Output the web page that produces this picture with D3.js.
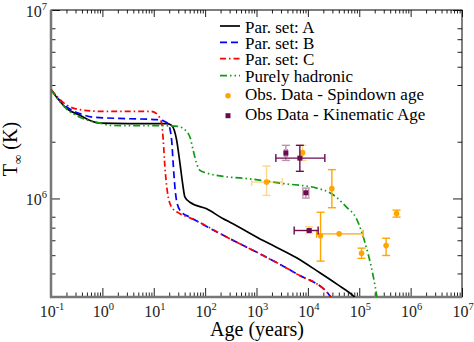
<!DOCTYPE html>
<html>
<head>
<meta charset="utf-8">
<script src="https://d3js.org/d3.v7.min.js"></script>
<style>
  body { margin: 0; background: #fff; }
  text { font-family: 'Liberation Serif', 'DejaVu Serif', serif; }
</style>
</head>
<body>
<svg id="vis"></svg>
<script>
  // cooling curves: [age (yr), T_inf (K)]
  var curveA = [[0.1,3.78e6],[0.202,3.0e6],[0.366,2.76e6],[0.56,2.6e6],[0.89,2.51e6],[3.16,2.495e6],
    [18.1,2.495e6],[22.3,2.44e6],[27.9,2.04e6],[32.4,1.535e6],[36.5,1.2e6],[40.5,1.016e6],[50.6,9.55e5],
    [107,8.81e5],[225,7.8e5],[304,7.48e5],[1349,5.98e5],[6026,4.84e5],[14760,4.14e5],[36140,3.52e5],
    [82000,2.99e5],[100000,2.82e5]]
  var curveB = [[0.1,3.78e6],[0.202,3.06e6],[0.366,2.82e6],[0.665,2.7e6],[3.16,2.65e6],[11.4,2.62e6],
    [16,2.57e6],[19.1,2.49e6],[22.3,2.04e6],[23.9,1.53e6],[25.8,1.15e6],[28.6,9.38e5],[34.9,8.45e5],
    [50.6,7.96e5],[304,6.11e5],[1349,4.98e5],[6026,3.98e5],[26800,3.05e5],[31600,2.82e5]]
  var curveC = [[0.1,3.78e6],[0.202,3.13e6],[0.366,2.96e6],[0.89,2.9e6],[8.5,2.9e6],[11.4,2.82e6],
    [12.2,2.76e6],[14.3,2.49e6],[15.3,2.04e6],[16.5,1.47e6],[18.3,1.1e6],[22.3,8.99e5],[32.4,8.3e5],
    [50.6,7.89e5],[304,6.11e5],[1349,4.98e5],[6026,3.98e5],[26800,3.05e5],[31600,2.82e5]]
  var curveHadronic = [[0.1,3.78e6],[0.202,2.98e6],[0.366,2.7e6],[0.89,2.51e6],[1.5,2.44e6],[20,2.43e6],
    [30,2.41e6],[37.5,2.35e6],[50.6,2.12e6],[58.6,1.8e6],[68.4,1.53e6],[79.3,1.41e6],[107,1.365e6],
    [225,1.31e6],[745,1.27e6],[3311,1.2e6],[14760,1.135e6],[28900,1.06e6],[56600,8.99e5],[88500,7.8e5],
    [128500,5.86e5],[186200,3.89e5],[219800,3.02e5],[240000,2.51e5]]

  // observed: spindown age
  var spinAge   = [1570, 7890, 29300, 532000, 40600, 17660, 10470, 110900, 333000]
  var spinT     = [1.222e6, 1.75e6, 1.127e6, 8.32e5, 6.49e5, 6.34e5, 6.76e5, 5.12e5, 5.62e5]
  var spinAgeLo = [804, null, null, null, 14760, null, null, null, null]
  var spinAgeHi = [3162, null, null, null, 119000, null, null, null, null]
  var spinTLo   = [1.038e6, 1.592e6, 8.93e5, 7.96e5, null, 4.65e5, 6.52e5, 4.81e5, 4.98e5]
  var spinTHi   = [1.486e6, 1.914e6, 1.422e6, 8.67e5, null, 8.45e5, 7.08e5, 5.45e5, 6.15e5]

  // observed: kinematic age
  var kinAge   = [3733, 6980, 9140, 10620]
  var kinT     = [1.742e6, 1.637e6, 1.072e6, 6.76e5]
  var kinAgeLo = [3500, 2380, 8000, 5410]
  var kinAgeHi = [3980, 21380, 10400, 15850]
  var kinTLo   = [1.592e6, 1.393e6, 1.005e6, null]
  var kinTHi   = [1.914e6, 1.914e6, 1.135e6, null]

  var xMajor = [-1, 0, 1, 2, 3, 4, 5, 6, 7]
  var yMajor = [6, 7]

  var legendLabels = ["Par. set: A", "Par. set: B", "Par. set: C", "Purely hadronic",
    "Obs. Data - Spindown age", "Obs Data - Kinematic Age"]

  var W = 474, H = 342
  var svg = d3.select('#vis').attr('width', W).attr('height', H)
    .attr('font-family', "'Liberation Serif', 'DejaVu Serif', serif")

  var x = d3.scaleLog().domain([0.1, 1e7]).range([51, 462])
  var y = d3.scaleLog().domain([3e5, 1e7]).range([297, 10])

  var orange = '#ffa500', purple = '#6a0d4f'

  svg.append('clipPath').attr('id', 'clip').append('rect')
    .attr('x', 51).attr('y', 10).attr('width', 411).attr('height', 287)

  // ticks
  var majX = xMajor.map(function(e) { return Math.pow(10, e) })
  var minX = x.ticks().filter(function(v) { return majX.indexOf(v) < 0 })
  var majY = yMajor.map(function(e) { return Math.pow(10, e) })
  var minY = y.ticks().filter(function(v) {
    var m = Math.round(v / Math.pow(10, Math.floor(Math.log10(v) + 1e-9)))
    return majY.indexOf(v) < 0 && m !== 9 && m !== 3
  })

  function addAxis(axis, tr) {
    var g = svg.append('g').attr('transform', tr).call(axis)
    g.select('.domain').remove()
    g.selectAll('line').attr('stroke', '#222')
  }
  addAxis(d3.axisBottom(x).tickValues(majX).tickSize(-9).tickFormat(''), 'translate(0,297)')
  addAxis(d3.axisBottom(x).tickValues(minX).tickSize(-4.5).tickFormat(''), 'translate(0,297)')
  addAxis(d3.axisTop(x).tickValues(majX).tickSize(-7).tickFormat(''), 'translate(0,10)')
  addAxis(d3.axisTop(x).tickValues(minX).tickSize(-3.5).tickFormat(''), 'translate(0,10)')
  addAxis(d3.axisLeft(y).tickValues(majY).tickSize(-9).tickFormat(''), 'translate(51,0)')
  addAxis(d3.axisLeft(y).tickValues(minY).tickSize(-4.5).tickFormat(''), 'translate(51,0)')
  addAxis(d3.axisRight(y).tickValues(majY).tickSize(-9).tickFormat(''), 'translate(462,0)')
  addAxis(d3.axisRight(y).tickValues(minY).tickSize(-4.5).tickFormat(''), 'translate(462,0)')

  // frame
  svg.append('rect').attr('x', 51).attr('y', 10).attr('width', 411).attr('height', 287)
    .attr('fill', 'none').attr('stroke', '#000').attr('stroke-width', 1)
  svg.append('path').attr('d', 'M51,10V297H462').attr('fill', 'none')
    .attr('stroke', '#777').attr('stroke-width', 2.5)

  // tick labels
  xMajor.forEach(function(e) {
    var t = svg.append('text').attr('x', x(Math.pow(10, e)) + 1).attr('y', 316.5)
      .attr('text-anchor', 'middle').attr('font-size', 16).attr('fill', '#222')
    t.append('tspan').text('10')
    t.append('tspan').attr('dy', -7).attr('font-size', 10.5).text(e)
  })
  yMajor.forEach(function(e) {
    var t = svg.append('text').attr('x', 47).attr('y', y(Math.pow(10, e)) + 7)
      .attr('text-anchor', 'end').attr('font-size', 16).attr('fill', '#222')
    t.append('tspan').text('10')
    t.append('tspan').attr('dy', -7).attr('font-size', 10.5).text(e)
  })

  // axis titles
  svg.append('text').attr('x', 257).attr('y', 336).attr('text-anchor', 'middle')
    .attr('font-size', 20).text('Age (years)')
  var yt = svg.append('text').attr('transform', 'translate(16.5,149) rotate(-90)')
    .attr('text-anchor', 'middle').attr('font-size', 20)
  yt.append('tspan').text('T')
  yt.append('tspan').attr('dy', 5).attr('font-size', 13).text('\u221e')
  yt.append('tspan').attr('dy', -5).text(' (K)')

  // curves
  var line = d3.line().x(function(d) { return x(d[0]) }).y(function(d) { return y(d[1]) })
    .curve(d3.curveMonotoneX)
  var styles = [
    {data: curveA, color: '#000', dash: null},
    {data: curveB, color: '#0000ff', dash: '7,4'},
    {data: curveC, color: '#ff0000', dash: '6,3,1.5,3'},
    {data: curveHadronic, color: '#129a12', dash: '7,3,1.5,3,1.5,3'}
  ]
  var cg = svg.append('g').attr('clip-path', 'url(#clip)')
  styles.forEach(function(s) {
    cg.append('path').datum(s.data).attr('d', line).attr('fill', 'none')
      .attr('stroke', s.color).attr('stroke-width', 1.7)
      .attr('stroke-dasharray', s.dash)
  })

  // error bars + points
  function errBars(g, xs, ys, xlo, xhi, ylo, yhi, color, faded) {
    xs.forEach(function(a, i) {
      var op = faded.indexOf(i) >= 0 ? 0.45 : 1
      var px = x(a), py = y(ys[i])
      var eg = g.append('g').attr('stroke', color).attr('stroke-width', 1.4).attr('opacity', op)
      if (xlo[i] != null) {
        eg.append('line').attr('x1', x(xlo[i])).attr('x2', x(xhi[i])).attr('y1', py).attr('y2', py)
        eg.append('line').attr('x1', x(xlo[i])).attr('x2', x(xlo[i])).attr('y1', py - 4).attr('y2', py + 4)
        eg.append('line').attr('x1', x(xhi[i])).attr('x2', x(xhi[i])).attr('y1', py - 4).attr('y2', py + 4)
      }
      if (ylo[i] != null) {
        eg.append('line').attr('x1', px).attr('x2', px).attr('y1', y(ylo[i])).attr('y2', y(yhi[i]))
        eg.append('line').attr('x1', px - 4).attr('x2', px + 4).attr('y1', y(ylo[i])).attr('y2', y(ylo[i]))
        eg.append('line').attr('x1', px - 4).attr('x2', px + 4).attr('y1', y(yhi[i])).attr('y2', y(yhi[i]))
      }
    })
  }
  var pg = svg.append('g')
  errBars(pg, spinAge, spinT, spinAgeLo, spinAgeHi, spinTLo, spinTHi, orange, [0, 1, 6])
  pg.selectAll('circle.spin').data(spinAge).enter().append('circle')
    .attr('cx', function(d) { return x(d) })
    .attr('cy', function(d, i) { return y(spinT[i]) })
    .attr('r', 2.8).attr('fill', orange)
  errBars(pg, kinAge, kinT, kinAgeLo, kinAgeHi, kinTLo, kinTHi, purple, [0, 2])
  pg.selectAll('rect.kin').data(kinAge).enter().append('rect')
    .attr('x', function(d) { return x(d) - 2.5 })
    .attr('y', function(d, i) { return y(kinT[i]) - 2.5 })
    .attr('width', 5).attr('height', 5).attr('fill', purple)

  // legend
  var legY = [26, 42.3, 58.7, 75.7, 95.7, 115.7]
  var leg = svg.append('g')
  styles.forEach(function(s, i) {
    leg.append('line').attr('x1', 220).attr('x2', 240).attr('y1', legY[i]).attr('y2', legY[i])
      .attr('stroke', s.color).attr('stroke-width', 1.7).attr('stroke-dasharray', s.dash)
  })
  leg.append('circle').attr('cx', 228).attr('cy', legY[4]).attr('r', 2.8).attr('fill', orange)
  leg.append('rect').attr('x', 225.5).attr('y', legY[5] - 2.5).attr('width', 5).attr('height', 5)
    .attr('fill', purple)
  legendLabels.forEach(function(t, i) {
    leg.append('text').attr('x', 245).attr('y', legY[i] + (i < 4 ? 6.5 : 4.5))
      .attr('font-size', 17).text(t)
  })
</script>
</body>
</html>
